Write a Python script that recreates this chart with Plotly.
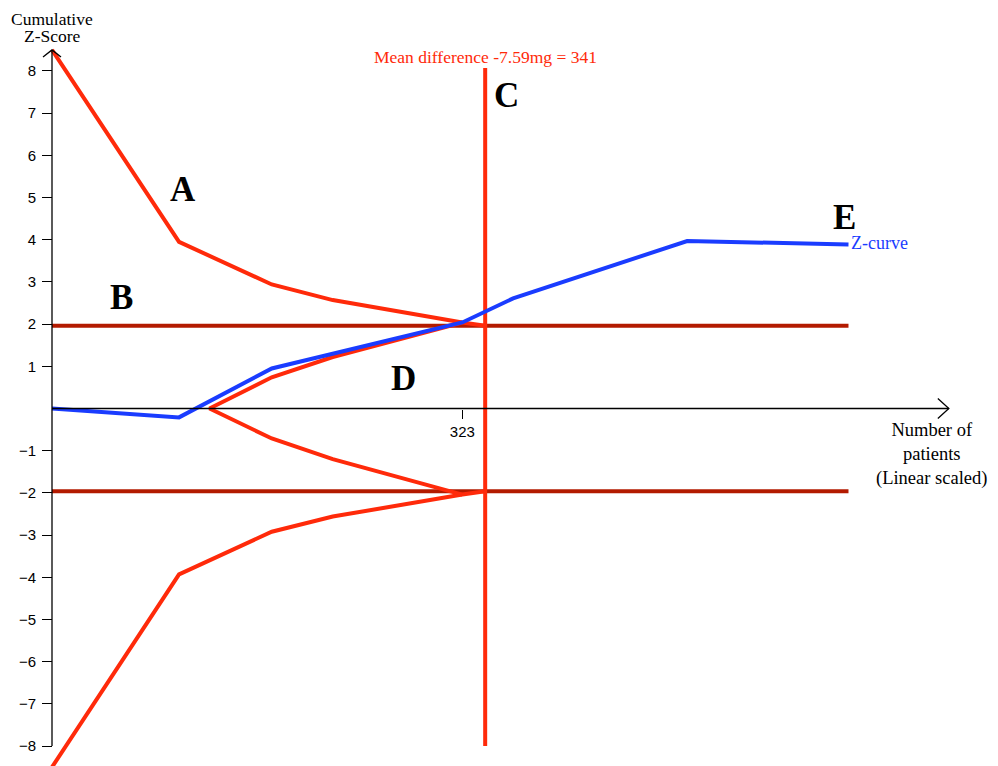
import plotly.graph_objects as go

# ---- data ----
patients_outer = [0, 100, 173, 221, 323, 341]
z_upper_outer = [8.5, 3.95, 2.94, 2.57, 2.04, 1.96]
z_lower_outer = [-8.5, -3.93, -2.92, -2.56, -2.04, -1.96]

patients_inner = [323, 221, 173, 124, 173, 221, 323]
z_inner = [-2.04, -1.20, -0.71, 0, 0.74, 1.22, 2.04]

patients_z = [0, 100, 173, 323, 363, 500, 627]
z_curve = [0.0, -0.21, 0.95, 2.04, 2.61, 3.97, 3.89]

conventional = 1.96
boundary_end = 627
mean_diff_n = 341
tick_patients = [323]
z_ticks = [-8, -7, -6, -5, -4, -3, -2, -1, 1, 2, 3, 4, 5, 6, 7, 8]

RED = "#ff2a0a"
DARK_RED = "#b31a00"
BLUE = "#1a3cff"
SERIF = "Liberation Serif"
SANS = "Liberation Sans"

# the page body adds an 8px margin, so the figure is drawn 8px smaller
W, H = 990, 758

fig = go.Figure()

# conventional significance lines (B)
for z in (conventional, -conventional):
    fig.add_trace(
        go.Scatter(
            x=[0, boundary_end],
            y=[z, z],
            mode="lines",
            line=dict(color=DARK_RED, width=4),
            hoverinfo="skip",
        )
    )

# monitoring boundaries (A) and futility wedge (D)
fig.add_trace(go.Scatter(x=patients_outer, y=z_upper_outer, mode="lines",
                         line=dict(color=RED, width=4)))
fig.add_trace(go.Scatter(x=patients_outer, y=z_lower_outer, mode="lines",
                         line=dict(color=RED, width=4)))
fig.add_trace(go.Scatter(x=patients_inner, y=z_inner, mode="lines",
                         line=dict(color=RED, width=4)))

# required information size (C)
fig.add_trace(go.Scatter(x=[mean_diff_n, mean_diff_n], y=[-8, 8.07], mode="lines",
                         line=dict(color=RED, width=4)))

# Z-curve (E)
fig.add_trace(go.Scatter(x=patients_z, y=z_curve, mode="lines",
                         line=dict(color=BLUE, width=4)))

# axis lines with open arrowheads
shapes = [
    dict(type="line", xref="x", yref="y", x0=0, x1=0, y0=-8, y1=8.5,
         line=dict(color="black", width=1.3)),
    dict(type="line", xref="x", yref="y", x0=0, x1=706, y0=0, y1=0,
         line=dict(color="black", width=1.3)),
    dict(type="path", xref="x", yref="y", xsizemode="pixel", ysizemode="pixel",
         xanchor=0, yanchor=8.5, path="M -9,-7 L 0,0 L 9,-7",
         line=dict(color="black", width=1.3)),
    dict(type="path", xref="x", yref="y", xsizemode="pixel", ysizemode="pixel",
         xanchor=706, yanchor=0, path="M -11,-10 L 0,0 L -11,10",
         line=dict(color="black", width=1.3)),
]

letter_font = dict(family=SERIF, size=35, color="black", weight="bold")
label_font = dict(family=SERIF, size=17.5, color="black")
annotations = [
    dict(x=103, y=5.18, text="A", font=letter_font),
    dict(x=55, y=2.62, text="B", font=letter_font),
    dict(x=358, y=7.41, text="C", font=letter_font),
    dict(x=277, y=0.70, text="D", font=letter_font),
    dict(x=624, y=4.52, text="E", font=letter_font),
    dict(x=341, y=8.33, text="Mean difference -7.59mg = 341",
         font=dict(family=SERIF, size=17.5, color=RED)),
    dict(x=627.5, y=3.92, text="Z-curve", xanchor="left",
         font=dict(family=SERIF, size=18, color=BLUE)),
    dict(x=0, y=9.24, text="Cumulative", font=label_font),
    dict(x=0, y=8.83, text="Z-Score", font=label_font),
    dict(x=692, y=-1.09, text="Number of<br>patients<br>(Linear scaled)",
         font=dict(family=SERIF, size=18.5, color="black")),
]
for a in annotations:
    a.update(xref="x", yref="y", showarrow=False)

fig.update_layout(
    width=W,
    height=H,
    margin=dict(l=0, r=0, t=0, b=0, autoexpand=False),
    paper_bgcolor="white",
    plot_bgcolor="white",
    showlegend=False,
    shapes=shapes,
    annotations=annotations,
    xaxis=dict(
        range=[-34.64, 744.7],
        anchor="free",
        position=(766 - 408.5) / H,
        tickvals=tick_patients,
        ticks="outside",
        ticklen=9,
        tickwidth=1.3,
        tickcolor="black",
        showline=False,
        showgrid=False,
        zeroline=False,
        tickfont=dict(family=SANS, size=15, color="black"),
    ),
    yaxis=dict(
        range=[-8.473, 9.493],
        anchor="free",
        position=44 / W,
        tickvals=z_ticks,
        ticktext=[str(v).replace("-", "\u2212") for v in z_ticks],
        ticks="outside",
        ticklen=10,
        tickwidth=1.3,
        tickcolor="black",
        ticklabelstandoff=3,
        showline=False,
        showgrid=False,
        zeroline=False,
        tickfont=dict(family=SANS, size=15, color="black"),
    ),
)

fig.write_html("out.html")
